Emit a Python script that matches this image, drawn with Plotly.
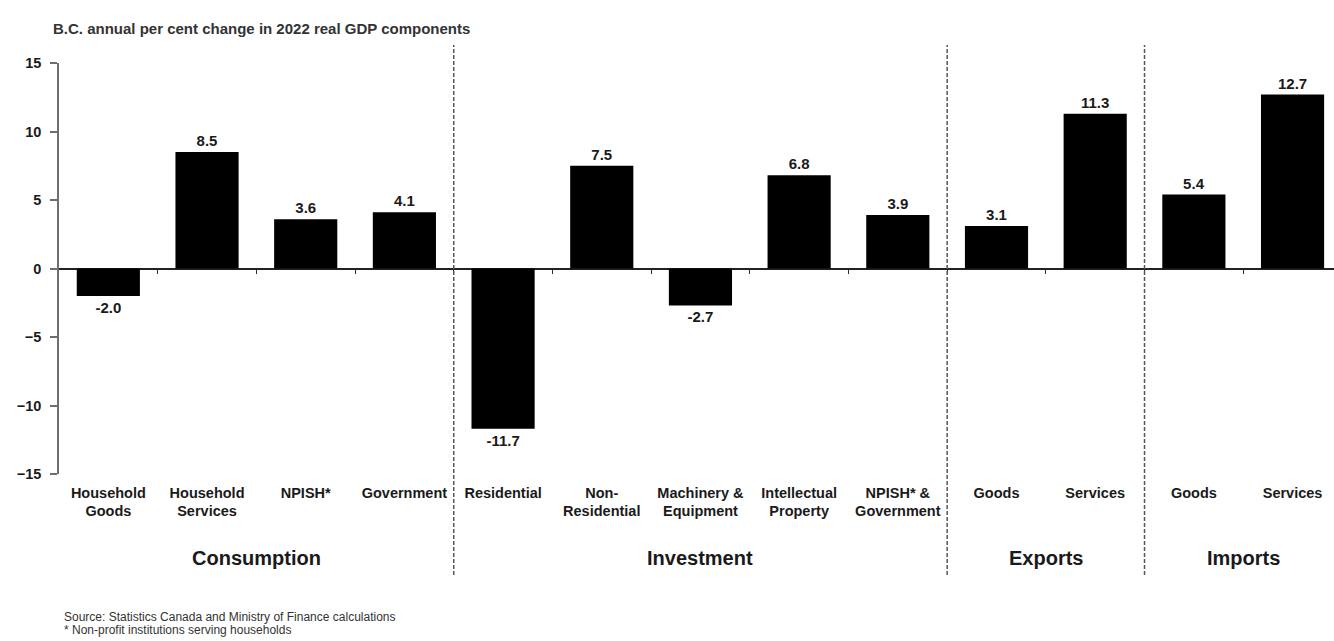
import plotly.graph_objects as go

# Real GDP components, B.C., annual % change in 2022
categories = [
    "Household<br>Goods", "Household<br>Services", "NPISH*", "Government",
    "Residential", "Non-<br>Residential", "Machinery &<br>Equipment",
    "Intellectual<br>Property", "NPISH* &<br>Government",
    "Goods", "Services",
    "Goods", "Services",
]
values = [-2.0, 8.5, 3.6, 4.1, -11.7, 7.5, -2.7, 6.8, 3.9, 3.1, 11.3, 5.4, 12.7]

groups = ["Consumption", "Investment", "Exports", "Imports"]
group_sizes = [4, 5, 2, 2]

y_ticks = [-15, -10, -5, 0, 5, 10, 15]

title_text = "B.C. annual per cent change in 2022 real GDP components"
notes = [
    "Source: Statistics Canada and Ministry of Finance calculations",
    "* Non-profit institutions serving households",
]

FONT = "Liberation Sans, Arial, sans-serif"
INK = "#1a1a1a"

xpos = list(range(len(categories)))
x_range = [-0.5, 12.42]

fig = go.Figure()
fig.add_trace(go.Bar(
    x=xpos, y=values, width=0.64,
    marker=dict(color="#000000", line=dict(width=0)),
    texttemplate="%{y:.1f}", textposition="outside", cliponaxis=False,
    textfont=dict(family=FONT, size=15, color=INK, weight="bold"),
    hoverinfo="skip", showlegend=False,
))
# empty trace so the boundary-tick axis along the zero line is drawn
fig.add_trace(go.Scatter(x=[], y=[], xaxis="x2", yaxis="y", showlegend=False))

# group separators and group names
shapes = []
annotations = []
start = 0
for i, (name, n) in enumerate(zip(groups, group_sizes)):
    end = start + n - 1
    annotations.append(dict(
        x=(start + end) / 2, y=-0.205, xref="x", yref="paper",
        text=name, showarrow=False, xanchor="center", yanchor="middle",
        font=dict(family=FONT, size=20, color=INK, weight="bold"),
    ))
    if i < len(groups) - 1:
        shapes.append(dict(
            type="line", xref="x", yref="paper",
            x0=end + 0.5, x1=end + 0.5, y0=-0.246, y1=1.044,
            line=dict(color="#555555", width=1.5, dash="4px,2px"),
        ))
    start = end + 1

annotations.append(dict(
    x=-0.006, y=1.085, xref="paper", yref="paper", text=title_text,
    showarrow=False, xanchor="left", yanchor="middle",
    font=dict(family=FONT, size=15, color="#333333", weight="bold"),
))
for k, line in enumerate(notes):
    annotations.append(dict(
        x=0.002, y=-0.348 - 0.031 * k, xref="paper", yref="paper", text=line,
        showarrow=False, xanchor="left", yanchor="middle",
        font=dict(family=FONT, size=12, color="#333333"),
    ))

fig.update_layout(
    width=1334, height=641,
    margin=dict(l=59, r=0, t=63, b=167),
    paper_bgcolor="white", plot_bgcolor="white",
    font=dict(family=FONT, color=INK),
    xaxis=dict(
        range=x_range, tickvals=xpos, ticktext=categories,
        showgrid=False, zeroline=False, showline=False, ticks="",
        tickfont=dict(family=FONT, size=14.5, color=INK, weight="bold"),
        ticklabelstandoff=8,
    ),
    xaxis2=dict(
        overlaying="x", anchor="free", position=0.5, side="bottom",
        range=x_range, tickvals=[b + 0.5 for b in xpos[:-1]],
        ticks="outside", ticklen=4, tickwidth=1, tickcolor="#333333",
        showticklabels=False, showgrid=False, zeroline=False, showline=False,
    ),
    yaxis=dict(
        range=[-15, 15], tickvals=y_ticks, showgrid=False,
        zeroline=True, zerolinecolor="#222222", zerolinewidth=1.5,
        showline=True, linecolor="#6e6e6e", linewidth=1.5,
        ticks="outside", ticklen=7, tickcolor="#6e6e6e", tickwidth=1.5,
        tickfont=dict(family=FONT, size=14.5, color=INK, weight="bold"),
        ticklabelstandoff=6,
    ),
    shapes=shapes, annotations=annotations,
)

fig.write_html("out.html")
